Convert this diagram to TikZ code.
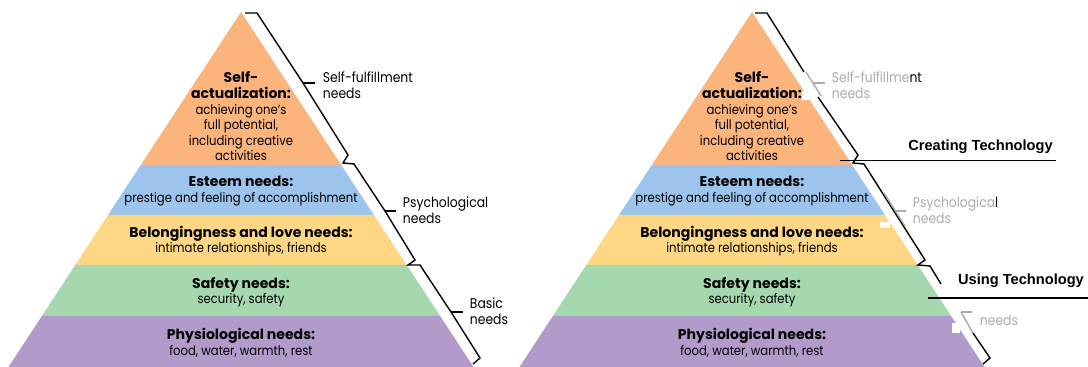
\documentclass[tikz,border=0pt]{standalone}
\usepackage{fontspec}
\setmainfont{Poppins}[FakeStretch=0.88]
\newfontfamily\headfont{Poppins}
\newfontfamily\arialfont{Liberation Sans}
\definecolor{selfcol}{HTML}{FBB57C}
\definecolor{esteemcol}{HTML}{9CC4EC}
\definecolor{lovecol}{HTML}{FDD784}
\definecolor{safecol}{HTML}{A5D8AE}
\definecolor{physcol}{HTML}{B29ACB}
\definecolor{fadegrey}{HTML}{ABABAB}
\def\needhead#1{{\headfont\bfseries\fontsize{10}{11.1}\selectfont #1}}
\def\bandtext{\node[align=center,font=\fontsize{9.4}{11.1}\selectfont]}
\def\sidetext{\node[anchor=west,align=left,font=\fontsize{10}{11.4}\selectfont]}

\begin{document}
\begin{tikzpicture}[x=0.025cm,y=-0.025cm,
  bracket/.style={line width=1pt,line join=miter},
  greybracket/.style={bracket,draw=fadegrey},
  techlabel/.style={font=\arialfont\bfseries\fontsize{10.4}{12}\selectfont}]
\useasboundingbox (0,0) rectangle (1088,367);
\foreach \dx/\side in {0/L,511/R} {
\begin{scope}[shift={(\dx,0)}]
\foreach \ya/\yb/\col in {12/165/selfcol,165/215/esteemcol,215/265/lovecol,265/316/safecol,316/367/physcol}
  \fill[\col] ({241-(\ya-12)*0.655},\ya) -- ({241+(\ya-12)*0.655},\ya)
    -- ({241+(\yb-12)*0.655},\yb) -- ({241-(\yb-12)*0.655},\yb) -- cycle;
\bandtext (self\side) at (241,116.5) {\needhead{Self-}\\\needhead{actualization:}\\achieving one’s\\full potential,\\including creative\\activities};
\bandtext (esteem\side) at (241,191) {\needhead{Esteem needs:}\\prestige and feeling of accomplishment};
\bandtext (love\side) at (241,241) {\needhead{Belongingness and love needs:}\\intimate relationships, friends};
\bandtext (safety\side) at (241,292) {\needhead{Safety needs:}\\security, safety};
\bandtext (physio\side) at (241,343) {\needhead{Physiological needs:}\\food, water, warmth, rest};
\end{scope}
}
% brackets, left
\draw[bracket] (245,13) -- (257,13) -- (303,83) -- (348,155) -- (343,163) -- (354,164)
  -- (385,211) -- (415,260) -- (408,265) -- (420,265) -- (451,312) -- (480,358) -- (473,364);
\draw[bracket] (303,83) -- (315,83);
\draw[bracket] (385,211) -- (396,211);
\draw[bracket] (451,312) -- (463,312);
\sidetext (fulfil) at (318,85) {Self-fulfillment\\needs};
\sidetext (psych) at (398,210.5) {Psychological\\needs};
\sidetext (basic) at (465,311.5) {Basic\\needs};
% brackets, right
\fill[white] (802,91) rectangle (812,100);
\fill[white] (880,222) rectangle (890,228);
\fill[white] (952,323) rectangle (960,333);
\draw[bracket] (755,13) -- (767,13) -- (804,72);
\draw[bracket] (818,97) -- (858,155) -- (853,163) -- (864,164) -- (925,260) -- (918,265)
  -- (930,266) -- (941,284);
\draw[bracket] (973,333) -- (990,358) -- (983,364);
\draw[greybracket] (806,72) -- (813,83) -- (821,96);
\draw[greybracket] (813,83) -- (825,83);
\draw[greybracket] (884,193) -- (905,226);
\draw[greybracket] (895,211) -- (906,211);
\draw[greybracket] (961,312) -- (973,333);
\draw[greybracket] (961,312) -- (972,312);
\sidetext (fulfilR) at (827,85) {{\color{fadegrey}Self-fulfillme}nt\\{\color{fadegrey}needs}};
\sidetext (psychR) at (908,210.5) {{\color{fadegrey}Psychologica}l\\{\color{fadegrey}needs}};
\sidetext[text=fadegrey] (basicR) at (975,320) {needs};
\node[techlabel] (creating) at (980.5,147) {Creating Technology};
\node[techlabel] (using) at (1021,281) {Using Technology};
\draw[line width=1.4pt] (840,160.5) -- (1056,160.5);
\draw[line width=1.4pt] (928,298) -- (1088,298);
\end{tikzpicture}
\end{document}
